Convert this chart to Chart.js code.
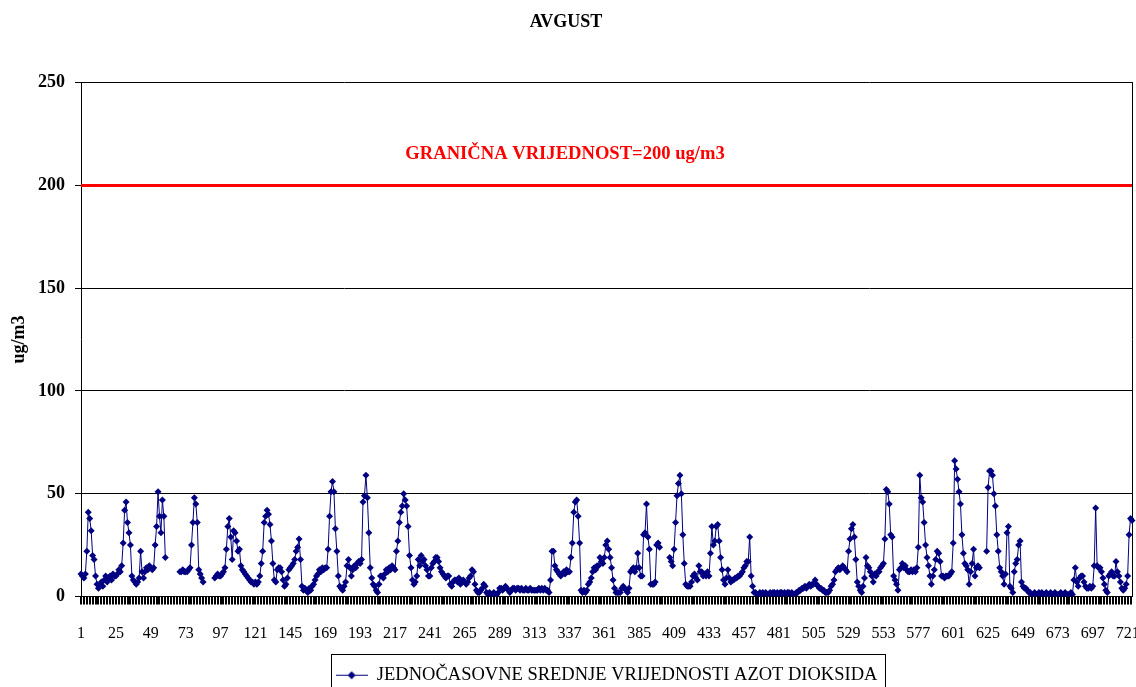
<!DOCTYPE html>
<html>
<head>
<meta charset="utf-8">
<title>AVGUST</title>
<script src="https://cdn.jsdelivr.net/npm/chart.js@4/dist/chart.umd.min.js"></script>
<style>
  html, body { margin: 0; padding: 0; background: #fff; overflow: hidden; }
  #frame { width: 1136px; height: 687px; overflow: hidden; }
  canvas { display: block; }
</style>
</head>
<body>
<div id="frame"><canvas id="chart" width="1136" height="694"></canvas></div>
<script>
const chartTitle = "AVGUST"
const seriesLabel = "JEDNOČASOVNE SREDNJE VRIJEDNOSTI AZOT DIOKSIDA"
const limitText = "GRANIČNA VRIJEDNOST=200 ug/m3"
const axisTitle = "ug/m3"
const limitValue = 200

// where the red note sits, in chart units (hour index, ug/m3)
const limitLabelHour = 333
const limitLabelLevel = 215

const tickLabels = ["1", "25", "49", "73", "97", "121", "145", "169", "193", "217", "241",
  "265", "289", "313", "337", "361", "385", "409", "433", "457", "481", "505", "529",
  "553", "577", "601", "625", "649", "673", "697", "721"]

// hourly NO2 means, one row per day (null = missing hour)
const no2Values = [
  11, 10, 9, 11, 22, 41, 38, 32, 20, 18, 10, 6, 4, 5, 7, 5, 8, 10, 7, 9, 10, 8, 11, 10,
  10, 11, 13, 12, 15, 26, 42, 46, 36, 31, 25, 10, 8, 7, 6, 7, 9, 22, 12, 9, 12, 14, 13, 15,
  14, 13, 14, 25, 34, 51, 39, 31, 47, 39, 19, null, null, null, null, null, null, null, null, null, 12, 12, 13, 12,
  12, 12, 13, 14, 25, 36, 48, 45, 36, 13, 11, 9, 7, null, null, null, null, null, null, null, 9, 10, 11, 10,
  10, 11, 12, 14, 23, 34, 38, 29, 18, 32, 31, 27, 22, 23, 15, 13, 12, 11, 10, 9, 8, 7, 7, 6,
  7, 6, 7, 10, 16, 22, 36, 39, 42, 40, 35, 27, 16, 8, 7, 13, 14, 14, 12, 8, 5, 6, 9, 13,
  14, 15, 16, 18, 22, 24, 28, 18, 5, 3, 4, 3, 2, 4, 3, 5, 6, 8, 10, 11, 13, 12, 14, 13,
  14, 14, 23, 39, 51, 56, 51, 33, 22, 10, 5, 4, 3, 5, 7, 15, 18, 14, 10, 13, 15, 14, 16, 17,
  16, 18, 46, 49, 59, 48, 31, 14, 9, 6, 5, 3, 2, 6, 10, 10, 9, 11, 13, 12, 14, 13, 15, 14,
  13, 22, 27, 36, 41, 44, 50, 47, 44, 34, 20, 14, 8, 6, 7, 10, 18, 15, 20, 17, 18, 15, 13, 10,
  10, 14, 16, 17, 19, 19, 17, 14, 12, 11, 10, 9, 10, 10, 6, 5, 7, 8, 8, 7, 9, 6, 7, 8,
  7, 6, 7, 9, 10, 13, 12, 6, 3, 2, 2, 3, 4, 6, 5, 2, 1, 2, 1, 1, 2, 1, 1, 2,
  4, 4, 3, 4, 5, 4, 3, 2, 3, 4, 4, 3, 4, 4, 3, 4, 3, 3, 4, 3, 3, 4, 3, 3,
  3, 3, 3, 4, 3, 4, 3, 4, 3, 3, 2, 8, 22, 22, 15, 13, 12, 11, 10, 11, 12, 11, 13, 12,
  12, 19, 26, 41, 46, 47, 39, 26, 3, 2, 3, 2, 3, 6, 7, 9, 12, 14, 13, 15, 15, 19, 17, 16,
  19, 25, 27, 23, 19, 14, 8, 4, 2, 2, 2, 2, 4, 5, 4, 3, 2, 4, 12, 13, 14, 12, 14, 21,
  14, 10, 10, 30, 31, 45, 29, 23, 6, 6, 6, 7, 25, 26, 24, null, null, null, null, null, null, 19, 17, 15,
  23, 36, 49, 55, 59, 50, 30, 16, 6, 5, 5, 5, 7, 10, 11, 9, 8, 15, 12, 12, 10, 11, 10, 12,
  10, 21, 34, 25, 27, 34, 35, 27, 19, 13, 8, 6, 9, 13, 9, 7, 8, 8, 9, 9, 10, 10, 11, 12,
  14, 15, 17, 17, 29, 10, 5, 2, 2, 1, 1, 2, 1, 2, 1, 2, 1, 1, 2, 1, 2, 2, 1, 2,
  1, 2, 2, 1, 2, 1, 2, 2, 1, 2, 1, 1, 2, 2, 3, 3, 4, 4, 5, 4, 5, 6, 5, 6,
  6, 8, 6, 5, 4, 4, 3, 3, 2, 2, 2, 3, 5, 6, 8, 12, 13, 14, 13, 14, 15, 14, 13, 12,
  22, 28, 33, 35, 29, 18, 7, 5, 3, 2, 5, 9, 19, 15, 14, 12, 10, 7, 11, 10, 12, 12, 14, 15,
  16, 28, 52, 51, 45, 30, 29, 10, 8, 6, 3, 13, 14, 16, 14, 15, 13, 12, 12, 13, 12, 13, 12, 14,
  24, 59, 48, 46, 36, 25, 19, 15, 10, 6, 10, 13, 18, 22, 21, 17, 10, 10, 9, 10, 10, 10, 11, 12,
  26, 66, 62, 57, 51, 45, 30, 21, 16, 15, 13, 6, 12, 16, 23, 10, 14, 15, 14, null, null, null, null, 22,
  53, 61, 61, 59, 50, 44, 30, 22, 14, 12, 10, 6, 11, 31, 34, 5, 4, 2, 12, 16, 18, 25, 27, 7,
  5, 4, 4, 3, 2, 2, 1, 1, 2, 1, 1, 2, 1, 2, 1, 1, 2, 1, 1, 2, 1, 1, 2, 1,
  1, 1, 2, 1, 1, 2, 1, 1, 1, 2, 1, 8, 14, 7, 5, 9, 10, 10, 7, 5, 4, 4, 5, 4,
  5, 15, 43, 15, 14, 14, 12, 9, 6, 3, 2, 10, 11, 12, 10, 10, 17, 12, 10, 7, 4, 3, 4, 6,
  10, 30, 38, 37,
]

const hours = no2Values.map((_, i) => String(i + 1))

const navy = "#000080"
const serif = "'Liberation Serif', 'Times New Roman', serif"

Chart.defaults.font.family = serif
Chart.defaults.color = "#000"

// little line-with-diamond sample for the legend
const legendMarker = (() => {
  const c = document.createElement("canvas")
  c.width = 32
  c.height = 10
  const ctx = c.getContext("2d")
  ctx.strokeStyle = navy
  ctx.lineWidth = 1
  ctx.beginPath()
  ctx.moveTo(0, 5.5)
  ctx.lineTo(32, 5.5)
  ctx.stroke()
  ctx.fillStyle = navy
  ctx.beginPath()
  ctx.moveTo(16, 1.5)
  ctx.lineTo(20, 5.5)
  ctx.lineTo(16, 9.5)
  ctx.lineTo(12, 5.5)
  ctx.closePath()
  ctx.fill()
  return c
})()

const legendFrame = {
  id: "legendFrame",
  afterDraw(chart) {
    const box = chart.legend.legendHitBoxes[0]
    if (!box) return
    const {ctx} = chart
    ctx.save()
    ctx.strokeStyle = "#000"
    ctx.lineWidth = 1
    ctx.strokeRect(Math.round(box.left - 5) + 0.5, Math.round(box.top - 12) + 0.5, Math.round(box.width + 12), 60)
    ctx.restore()
  },
}

const limitNote = {
  id: "limitNote",
  afterDatasetsDraw(chart) {
    const {ctx, scales: {x, y}} = chart
    ctx.save()
    ctx.font = `bold 18.6px ${serif}`
    ctx.fillStyle = "#ff0000"
    ctx.textAlign = "center"
    ctx.textBaseline = "middle"
    ctx.fillText(limitText, x.getPixelForValue(limitLabelHour), y.getPixelForValue(limitLabelLevel))
    ctx.restore()
  },
}

new Chart(document.getElementById("chart"), {
  type: "line",
  data: {
    labels: hours,
    datasets: [
      {
        label: seriesLabel,
        data: no2Values,
        borderColor: navy,
        backgroundColor: navy,
        borderWidth: 1,
        pointStyle: "rectRot",
        pointRadius: 3.5,
        pointBorderWidth: 0,
        pointBackgroundColor: navy,
        spanGaps: false,
      },
      {
        label: "limit",
        data: hours.map(() => limitValue),
        borderColor: "#ff0000",
        borderWidth: 3,
        pointRadius: 0,
      },
    ],
  },
  options: {
    responsive: false,
    animation: false,
    events: [],
    layout: {
      padding: {top: 0, left: 0, right: 4, bottom: 0},
    },
    plugins: {
      title: {
        display: true,
        text: chartTitle,
        color: "#000",
        font: {size: 18, weight: "bold"},
        padding: {top: 12, bottom: 49},
      },
      legend: {
        position: "bottom",
        fullSize: false,
        labels: {
          filter: (item) => item.datasetIndex === 0,
          usePointStyle: true,
          pointStyle: legendMarker,
          pointStyleWidth: 32,
          color: "#000",
          padding: 10,
          font: {size: 18.5},
        },
      },
      tooltip: {enabled: false},
    },
    scales: {
      x: {
        offset: false,
        afterFit: (scale) => {
          scale.height = 59
          // no extra room for label overhang at the ends
          scale.paddingLeft = 0
          scale.paddingRight = 0
        },
        border: {color: "#000", width: 1},
        grid: {
          drawOnChartArea: false,
          tickLength: 8,
          lineWidth: 2,
          color: (ctx) => (ctx.index % 2 === 0 ? "#000" : "rgba(0,0,0,0)"),
        },
        ticks: {
          autoSkip: false,
          maxRotation: 0,
          minRotation: 0,
          padding: 20,
          color: "#000",
          font: {size: 16},
          callback(value) {
            const label = this.getLabelForValue(value)
            return tickLabels.includes(label) ? label : ""
          },
        },
      },
      y: {
        min: 0,
        max: 250,
        afterFit: (scale) => { scale.width = 81 },
        border: {color: "#000"},
        grid: {color: "#000", tickLength: 6},
        ticks: {
          stepSize: 50,
          padding: 10,
          color: "#000",
          font: {size: 18, weight: "bold"},
        },
        title: {
          display: true,
          text: axisTitle,
          color: "#000",
          font: {size: 18, weight: "bold"},
          padding: {top: 9, bottom: 0},
        },
      },
      yRight: {
        position: "right",
        min: 0,
        max: 250,
        afterFit: (scale) => { scale.width = 0 },
        border: {color: "#000"},
        grid: {drawOnChartArea: false, drawTicks: false},
        ticks: {display: false},
      },
    },
  },
  plugins: [legendFrame, limitNote],
})
</script>
</body>
</html>
